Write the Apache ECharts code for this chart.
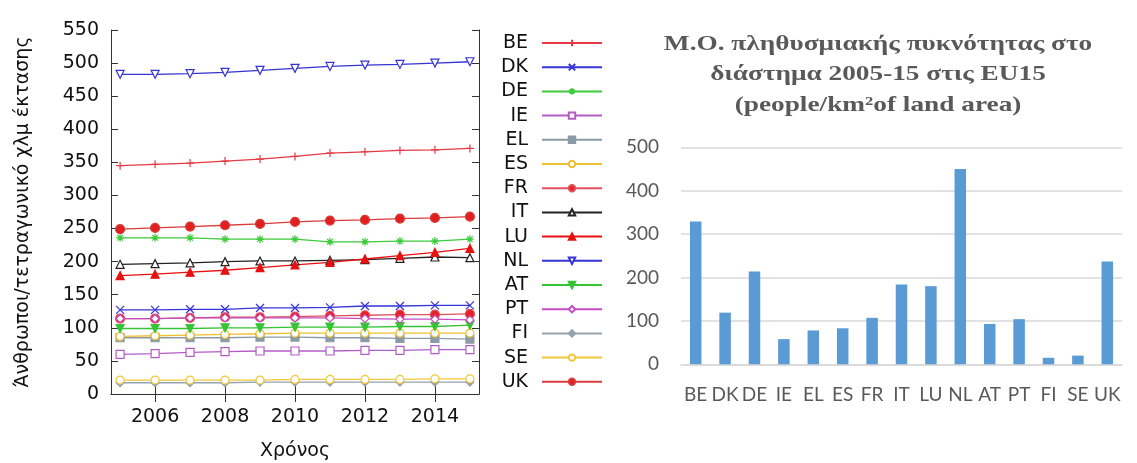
<!DOCTYPE html>
<html>
<head>
<meta charset="utf-8">
<script src="https://cdn.jsdelivr.net/npm/echarts@6/dist/echarts.min.js"></script>
<style>
  html, body { margin: 0; padding: 0; background: #fff; }
  #chart { width: 1137px; height: 463px; }
</style>
</head>
<body>
<div id="chart"></div>
<script>
// Population density (people per km² of land area), EU15, 2005–2015
const years = [2005, 2006, 2007, 2008, 2009, 2010, 2011, 2012, 2013, 2014, 2015];
const countries = ['BE', 'DK', 'DE', 'IE', 'EL', 'ES', 'FR', 'IT', 'LU', 'NL', 'AT', 'PT', 'FI', 'SE', 'UK'];

const BE = [345, 347, 349, 352, 355, 359, 364, 366, 368, 369, 371];
const DK = [127, 127, 128, 128, 130, 130, 131, 133, 133, 134, 134];
const DE = [236, 236, 236, 234, 234, 234, 230, 230, 231, 231, 234];
const IE = [60, 61, 63, 64, 65, 65, 65, 66, 66, 67, 67];
const EL = [85, 85, 85, 85, 86, 86, 85, 85, 84, 84, 83];
const ES = [87, 88, 89, 90, 91, 92, 92, 92, 92, 92, 92];
const FR = [114, 114, 115, 116, 116, 117, 118, 119, 120, 120, 121];
const IT = [196, 197, 198, 200, 201, 201, 202, 203, 205, 207, 206];
const LU = [179, 181, 184, 187, 191, 195, 199, 204, 209, 214, 220];
const NL = [483, 483, 484, 486, 489, 492, 495, 497, 498, 500, 502];
const AT = [99, 99, 99, 100, 100, 101, 101, 101, 102, 102, 104];
const PT = [114, 114, 115, 115, 115, 115, 115, 114, 113, 113, 112];
const FI = [17, 17, 17, 17, 18, 18, 18, 18, 18, 18, 18];
const SE = [21, 21, 21, 21, 21, 22, 22, 22, 22, 23, 23];
const UK = [249, 251, 253, 255, 257, 260, 262, 263, 265, 266, 268];

const yearTicks = [2006, 2008, 2010, 2012, 2014];

// Average density over 2005-15
const avgCountries = ['BE', 'DK', 'DE', 'IE', 'EL', 'ES', 'FR', 'IT', 'LU', 'NL', 'AT', 'PT', 'FI', 'SE', 'UK'];
const avgDensity = [329, 119, 214, 58, 78, 83, 107, 184, 180, 450, 93, 104, 15, 20, 237];

const seriesValues = { BE, DK, DE, IE, EL, ES, FR, IT, LU, NL, AT, PT, FI, SE, UK };

// marker look per country
const PLUS = 'path://M0,5L10,5M5,0L5,10';
const CROSS = 'path://M0,0L10,10M10,0L0,10';
const STAR = 'path://M0,5L10,5M5,0L5,10M1.5,1.5L8.5,8.5M8.5,1.5L1.5,8.5';
const styles = {
  BE: { c: '#e53a45', symbol: PLUS, size: 8, fill: '#e53a45' },
  DK: { c: '#3535d8', symbol: CROSS, size: 8, fill: '#3535d8' },
  DE: { c: '#3ccc3c', symbol: STAR, size: 8, fill: '#3ccc3c' },
  IE: { c: '#b45cc6', symbol: 'rect', size: 8, fill: '#ffffff' },
  EL: { c: '#8b9ba6', symbol: 'rect', size: 8, fill: '#8b9ba6' },
  ES: { c: '#f0c030', symbol: 'circle', size: 8, fill: '#ffffff' },
  FR: { c: '#e0505c', symbol: 'circle', size: 9, fill: '#e8202a' },
  IT: { c: '#222222', symbol: 'triangle', size: 8, fill: '#ffffff' },
  LU: { c: '#e81010', symbol: 'triangle', size: 8, fill: '#e81010' },
  NL: { c: '#3434d4', symbol: 'triangle', size: 8, fill: '#ffffff', rot: 180 },
  AT: { c: '#34c434', symbol: 'triangle', size: 8, fill: '#34c434', rot: 180 },
  PT: { c: '#c44cc4', symbol: 'diamond', size: 8, fill: '#ffffff' },
  FI: { c: '#96a2ac', symbol: 'diamond', size: 8, fill: '#96a2ac' },
  SE: { c: '#f2c83a', symbol: 'circle', size: 8, fill: '#ffffff' },
  UK: { c: '#d83c3c', symbol: 'circle', size: 9, fill: '#e02020' }
};

const lineSeries = countries.map(function (name) {
  const s = styles[name];
  return {
    name: name,
    type: 'line',
    xAxisIndex: 0,
    yAxisIndex: 0,
    data: years.map(function (y, i) { return [y, seriesValues[name][i]]; }),
    symbol: s.symbol,
    symbolSize: s.size,
    symbolRotate: s.rot || 0,
    showSymbol: true,
    lineStyle: { color: s.c, width: 1.3 },
    itemStyle: { color: s.fill, borderColor: s.c, borderWidth: 1.2 },
    emphasis: { disabled: true },
    z: 3
  };
});

const barSeries = {
  name: 'avg',
  type: 'bar',
  xAxisIndex: 2,
  yAxisIndex: 2,
  data: avgDensity,
  barWidth: 11.5,
  itemStyle: { color: '#5b9bd5' },
  emphasis: { disabled: true }
};

const FRAME = '#333333';
const tickFont = { fontFamily: 'DejaVu Sans', fontSize: 19, color: '#111111' };

const chart = echarts.init(document.getElementById('chart'), null, { renderer: 'canvas' });
chart.setOption({
  animation: false,
  backgroundColor: '#ffffff',
  grid: [
    { left: 111, top: 30, width: 368, height: 364, outerBoundsMode: 'none' },
    { left: 111, top: 30, width: 368, height: 364, outerBoundsMode: 'none' },
    { left: 681, top: 147.3, width: 441, height: 217, outerBoundsMode: 'none' }
  ],
  xAxis: [
    {
      type: 'value', gridIndex: 0, position: 'bottom',
      min: 2004.74, max: 2015.26,
      axisLine: { show: true, lineStyle: { color: FRAME, width: 1 } },
      axisTick: { show: true, inside: true, length: 8, customValues: yearTicks, lineStyle: { color: FRAME } },
      axisLabel: Object.assign({ customValues: yearTicks, margin: 14, formatter: function (v) { return String(v); } }, tickFont),
      splitLine: { show: false },
      name: 'Χρόνος', nameLocation: 'middle', nameGap: 48,
      nameTextStyle: { fontFamily: 'DejaVu Sans', fontSize: 19, color: '#111111' }
    },
    {
      type: 'value', gridIndex: 1, position: 'top',
      min: 2004.74, max: 2015.26,
      axisLine: { show: true, lineStyle: { color: FRAME, width: 1 } },
      axisTick: { show: true, inside: true, length: 8, customValues: yearTicks, lineStyle: { color: FRAME } },
      axisLabel: { show: false },
      splitLine: { show: false }
    },
    {
      type: 'category', gridIndex: 2, data: avgCountries,
      axisLine: { show: true, lineStyle: { color: '#d9d9d9', width: 1.5 } },
      axisTick: { show: false },
      axisLabel: { interval: 0, margin: 21, fontFamily: 'Lato', fontSize: 19, color: '#595959' }
    }
  ],
  yAxis: [
    {
      type: 'value', gridIndex: 0, position: 'left',
      min: 0, max: 550, interval: 50,
      axisLine: { show: true, lineStyle: { color: FRAME, width: 1 } },
      axisTick: { show: true, inside: true, length: 7, lineStyle: { color: FRAME } },
      axisLabel: Object.assign({ margin: 12 }, tickFont),
      splitLine: { show: false },
      name: 'Άνθρωποι/τετραγωνικό χλμ έκτασης', nameLocation: 'middle', nameGap: 78,
      nameTextStyle: { fontFamily: 'DejaVu Sans', fontSize: 19, color: '#111111' }
    },
    {
      type: 'value', gridIndex: 1, position: 'right',
      min: 0, max: 550, interval: 50,
      axisLine: { show: true, lineStyle: { color: FRAME, width: 1 } },
      axisTick: { show: true, inside: true, length: 7, lineStyle: { color: FRAME } },
      axisLabel: { show: false },
      splitLine: { show: false }
    },
    {
      type: 'value', gridIndex: 2,
      min: 0, max: 500, interval: 100,
      axisLine: { show: false },
      axisTick: { show: false },
      axisLabel: { margin: 22, fontFamily: 'Lato', fontSize: 19, color: '#595959' },
      splitLine: { show: true, lineStyle: { color: '#d9d9d9', width: 1.5 } }
    }
  ],
  legend: {
    data: countries,
    orient: 'vertical',
    left: 496,
    top: 33,
    padding: 0,
    align: 'right',
    itemWidth: 60,
    itemHeight: 8,
    itemGap: 4.2,
    selectedMode: false,
    textStyle: {
      fontFamily: 'DejaVu Sans', fontSize: 19, color: '#111111',
      width: 32, align: 'right', lineHeight: 20, padding: [0, 9, 0, 0]
    }
  },
  graphic: [
    {
      type: 'text',
      x: 878, y: 29,
      originX: 0,
      scaleX: 1.3,
      style: {
        text: 'Μ.Ο. πληθυσμιακής πυκνότητας στο\nδιάστημα 2005-15 στις EU15\n(people/km²of land area)',
        font: 'bold 21px "Liberation Serif"',
        fill: '#595959',
        align: 'center',
        verticalAlign: 'top',
        lineHeight: 30.5
      }
    }
  ],
  series: lineSeries.concat([barSeries])
});
</script>
</body>
</html>
